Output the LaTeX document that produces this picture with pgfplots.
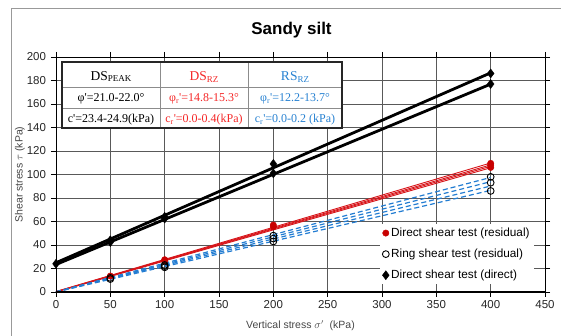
\documentclass[border=0pt]{standalone}
\usepackage{pgfplots}
\pgfplotsset{compat=1.18}
\usepackage{fontspec}
\setmainfont{Liberation Sans}
\newfontfamily\tnr{Liberation Serif}
\definecolor{rline}{RGB}{215,20,25}
\definecolor{rmark}{RGB}{200,0,0}
\definecolor{bline}{RGB}{35,125,210}
\definecolor{tred}{RGB}{245,40,40}
\definecolor{tblue}{RGB}{40,130,210}
\definecolor{lab}{RGB}{70,70,70}
\begin{document}
\begin{tikzpicture}[x=1pt,y=1pt]
\useasboundingbox (-56,-44) rectangle (505,292);
\draw[black!40, line width=1pt] (-44,-50) -- (-44,283) -- (510,283);
\node[anchor=base, font=\fontsize{17}{20}\selectfont\bfseries] at (235.5,257) {Sandy silt};
\begin{axis}[
  at={(0,0)}, anchor=south west,
  scale only axis, width=489pt, height=235pt,
  xmin=0, xmax=450, ymin=0, ymax=200,
  xtick distance=50, ytick distance=20,
  grid=major,
  grid style={black!65, line width=0.6pt},
  axis line style={black, line width=0.8pt},
  tick align=outside, major tick length=5pt,
  tick style={black, line width=0.6pt},
  tick label style={font=\fontsize{11.5}{13}\selectfont, text=black!85},
  yticklabel style={xshift=-1.5pt},
  /pgf/number format/assume math mode=true,
  xlabel={Vertical stress $\sigma'$\ \ (kPa)},
  ylabel={Shear stress $\tau$\ (kPa)},
  xlabel style={at={(axis description cs:0.5,-0.145)}, anchor=center, font=\fontsize{10.5}{12}\selectfont, text=lab},
  ylabel style={at={(axis description cs:-0.074,0.5)}, anchor=center, rotate=0, font=\fontsize{10.5}{12}\selectfont, text=lab},
  legend style={at={(axis description cs:0.663,0.29)}, anchor=north west, draw=none, fill=white,
    font=\fontsize{11.8}{14}\selectfont, row sep=7pt, inner xsep=2pt, inner ysep=2pt},
  legend cell align=left,
  clip=false,
]
% black peak lines
\addplot[black, line width=2.8pt, forget plot] coordinates {(0,23.4) (400,176.9)};
\addplot[black, line width=2.8pt, forget plot] coordinates {(0,24.9) (400,186.5)};
% red residual lines
\addplot[rline, line width=0.9pt, forget plot] coordinates {(0,0) (400,105.7)};
\addplot[rline, line width=0.9pt, forget plot] coordinates {(0,0.2) (400,107.0)};
\addplot[rline, line width=0.9pt, forget plot] coordinates {(0,0.3) (400,108.2)};
\addplot[rline, line width=0.9pt, forget plot] coordinates {(0,0.4) (400,109.8)};
% blue ring lines
\addplot[bline, line width=1.2pt, dash pattern=on 5pt off 3pt, forget plot] coordinates {(0,0) (400,86.5)};
\addplot[bline, line width=1.2pt, dash pattern=on 5pt off 3pt, forget plot] coordinates {(0,0.1) (400,90.2)};
\addplot[bline, line width=1.2pt, dash pattern=on 5pt off 3pt, forget plot] coordinates {(0,0.1) (400,93.9)};
\addplot[bline, line width=1.2pt, dash pattern=on 5pt off 3pt, forget plot] coordinates {(0,0.2) (400,97.5)};
% points
\addplot[only marks, mark=*, mark size=3.2pt, mark options={fill=rmark, draw=rmark}] coordinates {
(50,13.6) (100,26.5) (100,27.5) (200,55.5) (200,57) (400,106) (400,108) (400,109.5)};
\addlegendentry{Direct shear test (residual)}
\addplot[only marks, mark=o, mark size=3.4pt, mark options={fill=white, draw=black, line width=0.9pt}] coordinates {
(50,11) (50,12) (100,21) (100,22) (100,23) (200,43) (200,45.5) (200,48) (400,86) (400,93) (400,98)};
\addlegendentry{Ring shear test (residual)}
\addplot[only marks, mark=diamond*, mark size=4.5pt, mark options={fill=black, draw=black}] coordinates {
(0,24) (50,42.5) (50,44) (100,62.5) (100,64) (200,101) (200,109) (400,177) (400,186)};
\addlegendentry{Direct shear test (direct)}
\draw[black, line width=1.4pt] (axis cs:0,0) -- (axis cs:450,0);
\end{axis}
% table
\fill[white] (6,164) rectangle (286,230);
\draw[black!45, line width=0.6pt] (104,164) -- (104,230) (192,164) -- (192,230) (6,205) -- (286,205) (6,184) -- (286,184);
\draw[black!85, line width=1.6pt] (6,164) rectangle (286,230);
\begin{scope}[every node/.style={anchor=base, inner sep=0pt, font=\tnr\fontsize{12}{14}\selectfont}]
\node at (55,211) {\fontsize{13.5}{15}\selectfont DS\raisebox{-1pt}{\fontsize{9}{10}\selectfont PEAK}};
\node[text=tred] at (148,211) {\fontsize{13.5}{15}\selectfont DS\raisebox{-1.5pt}{\fontsize{9}{10}\selectfont RZ}};
\node[text=tblue] at (239,211) {\fontsize{13.5}{15}\selectfont RS\raisebox{-1.5pt}{\fontsize{9}{10}\selectfont RZ}};
\node at (55,190) {φ'=21.0-22.0°};
\node[text=tred] at (148,190) {φ\textsubscript{r}'=14.8-15.3°};
\node[text=tblue] at (239,190) {φ\textsubscript{r}'=12.2-13.7°};
\node at (55,169.5) {c'=23.4-24.9(kPa)};
\node[text=tred] at (148,169.5) {c\textsubscript{r}'=0.0-0.4(kPa)};
\node[text=tblue] at (239,169.5) {c\textsubscript{r}'=0.0-0.2 (kPa)};
\end{scope}
\end{tikzpicture}
\end{document}
